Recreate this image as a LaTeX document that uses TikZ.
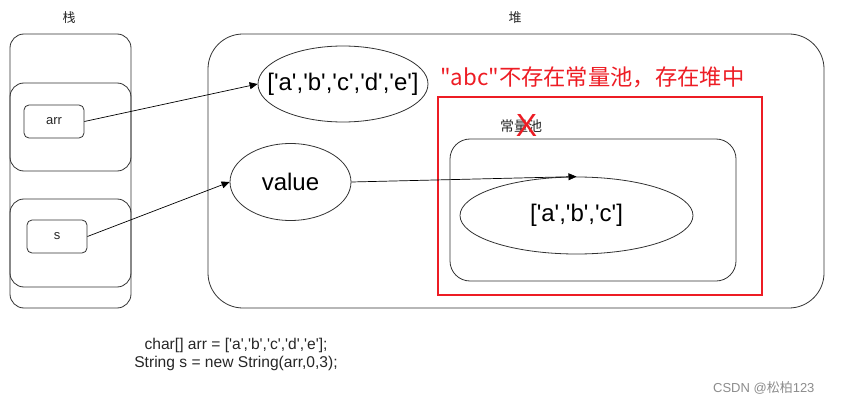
\documentclass[tikz,border=0pt]{standalone}
\usepackage{fontspec}
\setmainfont{Liberation Sans}[Ligatures=NoCommon,Mapping=]
\newfontfamily\cjk{Noto Sans CJK SC}[Mapping=]
\usetikzlibrary{shapes.geometric,arrows.meta}
\definecolor{redc}{RGB}{237,28,36}
\definecolor{linec}{RGB}{50,50,50}
\newcommand\qq{\textquotesingle}
\begin{document}
\begin{tikzpicture}[x=1pt,y=-1pt,
  box/.style={draw=linec,line width=0.8pt},
  ell/.style={draw=linec,line width=0.8pt,ellipse,inner sep=0pt},
  big/.style={font=\fontsize{24}{26}\selectfont,inner sep=0pt},
  arrowc/.style={draw=black,line width=0.7pt,-{Triangle[length=8pt,width=7pt]}},
  lbl/.style={font=\fontsize{13}{15}\selectfont,text=black!85}]
\useasboundingbox (0,0) rectangle (842,406);
% stack
\draw[box,rounded corners=14pt] (10,34) rectangle (131,308);
\draw[box,rounded corners=14pt] (10,83) rectangle (131,171);
\draw[box,rounded corners=14pt] (10,199) rectangle (131,287);
\node[box,rounded corners=5pt,minimum width=60pt,minimum height=33pt,lbl] (arr) at (54,121.5) {arr};
\node[box,rounded corners=5pt,minimum width=60pt,minimum height=33pt,lbl,text depth=-6pt] (s) at (57,236.5) {s};
\node[lbl,font=\cjk\fontsize{13}{15}\selectfont] (stk) at (69,18) {栈};
\node[lbl,font=\cjk\fontsize{13}{15}\selectfont] (heap) at (515,18) {堆};
% heap
\draw[box,rounded corners=35pt] (208,34) rectangle (824,308);
\node[ell,minimum width=170pt,minimum height=76pt] (e1) at (343,84) {};
\node[big] (e1t) at (e1.center) {[\qq a\qq,\qq b\qq,\qq c\qq,\qq d\qq,\qq e\qq]};
\node[ell,minimum width=121pt,minimum height=77pt] (val) at (290.5,182) {};
\node[big] (valt) at (val.center) {value};
% red
\node[text=redc,font=\cjk\fontsize{22.3}{24}\selectfont,anchor=west,inner sep=0pt] (note) at (440,77) {"abc"不存在常量池，存在堆中};
\draw[draw=redc,line width=1.5pt] (438,97) rectangle (762,295);
\node[lbl,font=\cjk\fontsize{14}{16}\selectfont] (pool) at (521,126) {常量池};
\node[text=redc,font=\fontsize{32}{34}\selectfont,inner sep=0pt] (x) at (526.5,125) {X};
\draw[box,rounded corners=20pt] (450,139) rectangle (736,281);
\node[ell,minimum width=233pt,minimum height=77pt] (e2) at (576.5,215.5) {};
\node[big] (e2t) at (e2.center) {[\qq a\qq,\qq b\qq,\qq c\qq]};
% arrows
\draw[arrowc] (arr.east) -- (e1.west);
\draw[arrowc] (s.east) -- (val.west);
\draw[arrowc] (val.east) -- (e2.north);
% code
\node[align=center,font=\fontsize{15.6}{18}\selectfont,text=black!85] (code) at (236,354) {char[] arr = [\qq a\qq,\qq b\qq,\qq c\qq,\qq d\qq,\qq e\qq];\\String s = new String(arr,0,3);};
\node[font=\fontsize{13}{15}\selectfont,text=black!45,anchor=east] (csdn) at (818,388) {CSDN @{\cjk 松柏}123};
\end{tikzpicture}
\end{document}
